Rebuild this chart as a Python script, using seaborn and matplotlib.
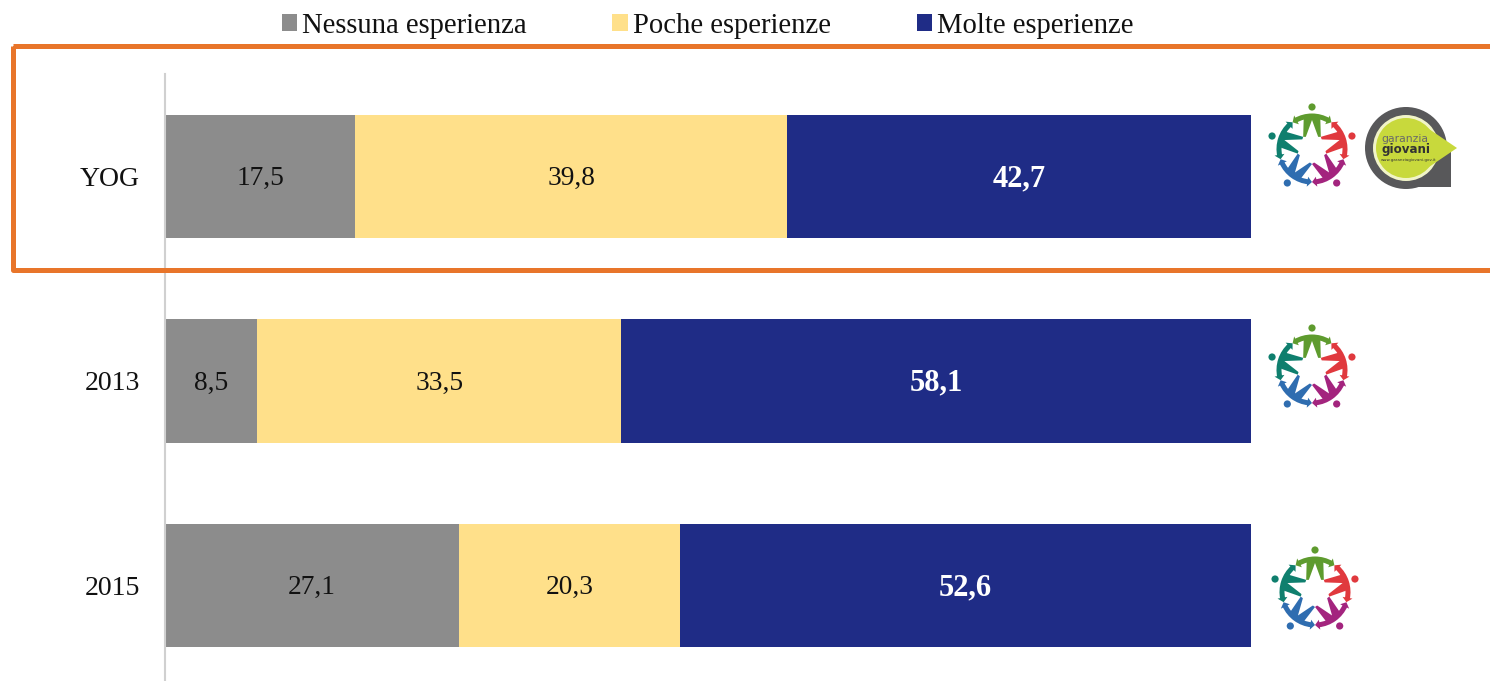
import numpy as np
import pandas as pd
import matplotlib.pyplot as plt
from matplotlib.patches import Arc, Circle, Polygon, Rectangle
import seaborn as sns

# Values
categories = ['YOG', '2013', '2015']
nessuna = [17.5, 8.5, 27.1]
poche = [39.8, 33.5, 20.3]
molte = [42.7, 58.1, 52.6]
series_names = ['Nessuna esperienza', 'Poche esperienze', 'Molte esperienze']
series_colors = ['#8C8C8C', '#FFE08A', '#1F2C86']
label_colors = ['#111111', '#111111', 'white']
label_weights = ['normal', 'normal', 'bold']
label_sizes = [19.7, 19.7, 22]

sns.set_style('white')
plt.rcParams['font.family'] = ['Liberation Serif', 'DejaVu Serif']

W, H = 1490, 681
fig = plt.figure(figsize=(W / 100, H / 100), dpi=100)
ax = fig.add_axes([165 / W, -7 / H, 1086 / W, 614 / H])

# Stacked horizontal bars
lefts = np.zeros(len(categories))
rows = zip(series_names, [nessuna, poche, molte], series_colors, label_colors, label_weights, label_sizes)
for name, vals, col, lc, lw, fs in rows:
    df = pd.DataFrame({'cat': categories, 'val': vals})
    n_before = len(ax.containers)
    sns.barplot(data=df, x='val', y='cat', color=col, saturation=1, width=0.602,
                left=lefts, label=name, errorbar=None, linewidth=0, ax=ax)
    texts = ax.bar_label(ax.containers[n_before], labels=[f'{v:.1f}'.replace('.', ',') for v in vals],
                         label_type='center', color=lc, fontweight=lw, fontsize=fs)
    for t in texts:
        t.xyann = (0, -1.5)
    lefts = lefts + np.array(vals)

ax.set_xlim(0, 100)
ax.set_ylim(2.5, -0.5)
ax.set_xlabel('')
ax.set_ylabel('')
ax.set_xticks([])
ax.tick_params(axis='y', length=0, pad=18, labelsize=20, labelcolor='#111111')
for s in ['top', 'right', 'bottom']:
    ax.spines[s].set_visible(False)
ax.spines['left'].set_color('#D0D0D0')
ax.spines['left'].set_linewidth(1.5)

handles, labels = ax.get_legend_handles_labels()
ax.get_legend().remove()
fig.legend(handles, labels, loc='center', bbox_to_anchor=(707.5 / W, 1 - 26 / H), ncol=3, frameon=False,
           fontsize=20.6, handlelength=0.53, handleheight=0.53, handletextpad=0.18, columnspacing=3.0,
           labelcolor='#111111')

# Overlay in pixel coordinates for the frame and the logos
over = fig.add_axes([0, 0, 1, 1], zorder=5)
over.set_xlim(0, W)
over.set_ylim(H, 0)
over.axis('off')
over.add_patch(Rectangle((13, 46), 1600, 224, fill=False, ec='#E8752A', lw=3.6, joinstyle='round'))


def pt(cx, cy, r, t):
    return (cx + r * np.cos(t), cy + r * np.sin(t))


def emblem(cx, cy):
    # five little figures around a white star
    colors = ['#5E9B2E', '#E0393E', '#A3247E', '#2F6DB0', '#0F7F6E']
    angles = [np.deg2rad(-90 + 72 * i) for i in range(5)]
    for th, col in zip(angles, colors):
        d = np.deg2rad(14)
        w = np.deg2rad(36)
        over.add_patch(Polygon([pt(cx, cy, 34, th - d), pt(cx, cy, 34, th + d),
                                pt(cx, cy, 15, th + w), pt(cx, cy, 15, th - w)], color=col, lw=0))
        over.add_patch(Circle(pt(cx, cy, 42, th), 3.6, color=col, lw=0))
    star = []
    for k in range(10):
        r = 29 if k % 2 == 0 else 12
        star.append(pt(cx, cy, r, np.deg2rad(-90 + 36 * k)))
    over.add_patch(Polygon(star, color='white', lw=0))
    for th, col in zip(angles, colors):
        deg = np.rad2deg(th)
        over.add_patch(Arc((cx, cy), 66, 66, theta1=deg - 30, theta2=deg + 30, color=col, lw=3.6))
        # arrow hands at the ends of the arms
        for sign in (-1, 1):
            e = th + sign * np.deg2rad(28)
            s = th + sign * np.deg2rad(36)
            over.add_patch(Polygon([pt(cx, cy, 38, e), pt(cx, cy, 28, e), pt(cx, cy, 33, s)], color=col, lw=0))


def garanzia(cx, cy):
    over.add_patch(Circle((cx, cy), 41, color='#58585A', lw=0))
    over.add_patch(Rectangle((cx, cy), 45, 39, color='#58585A', lw=0))
    over.add_patch(Circle((cx, cy), 33, color='#F1F4C8', lw=0))
    over.add_patch(Polygon([(cx + 20, cy - 21), (cx + 51, cy), (cx + 20, cy + 21)], color='#C8D93C', lw=0))
    over.add_patch(Circle((cx, cy), 30, color='#C8D93C', lw=0))
    over.text(cx - 25, cy - 9, 'garanzia', fontsize=7.8, family='DejaVu Sans', color='#6A6A6A', va='center')
    over.text(cx - 25, cy + 2, 'giovani', fontsize=8.6, family='DejaVu Sans', weight='bold', color='#333333', va='center')
    over.text(cx - 25, cy + 12, 'www.garanziagiovani.gov.it', fontsize=2.9, family='DejaVu Sans', color='#333333', va='center')


emblem(1312, 149)
garanzia(1406, 148)
emblem(1312, 370)
emblem(1315, 592)

fig.savefig('out.png', dpi=100)
